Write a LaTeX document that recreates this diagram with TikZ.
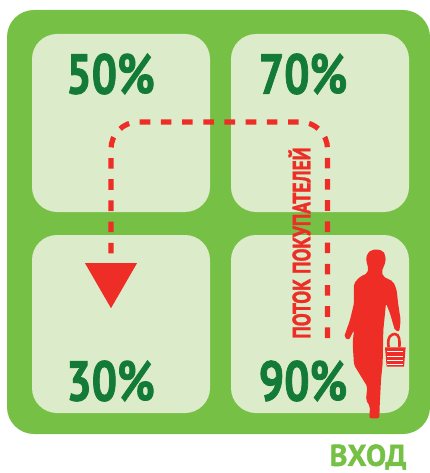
\documentclass[tikz,border=0pt]{standalone}
\usepackage{fontspec}
\usetikzlibrary{shapes.geometric}
\setmainfont{PT Sans}
\newfontfamily\heavyfont[BoldFont={PT Sans Bold},BoldFeatures={FakeBold=1.6}]{PT Sans}
\definecolor{shopgreen}{RGB}{118,192,69}
\definecolor{tilegreen}{RGB}{220,235,201}
\definecolor{pctgreen}{RGB}{19,123,55}
\definecolor{flowred}{RGB}{238,45,38}
\tikzset{
  zone/.style={fill=tilegreen, rounded corners=25pt, minimum width=178pt, minimum height=178pt, inner sep=0pt},
  pct/.style={text=pctgreen, font=\fontsize{56}{56}\heavyfont\bfseries, inner sep=0pt, anchor=center},
  flow/.style={draw=flowred, line width=5.2pt, dash pattern=on 10.6pt off 10.6pt, rounded corners=27pt}
}
\begin{document}
\begin{tikzpicture}[x=1pt, y=-1pt]
  \useasboundingbox (0,0) rectangle (430,473);
  \node[fill=shopgreen, rounded corners=27pt, minimum width=423pt, minimum height=424pt, inner sep=0pt] (shop) at (218.5,222) {};
  \node[zone] (zoneA) at (121,123) {};
  \node[zone] (zoneB) at (320,123) {};
  \node[zone] (zoneC) at (121,324) {};
  \node[zone] (zoneD) at (320,324) {};
  \node[pct] (pctA) at (110.5,74) {\scalebox{0.8}[1]{50\%}};
  \node[pct] (pctB) at (303,74) {\scalebox{0.8}[1]{70\%}};
  \node[pct] (pctC) at (110.5,381) {\scalebox{0.8}[1]{30\%}};
  \node[pct] (pctD) at (303,381) {\scalebox{0.8}[1]{90\%}};
  % customer route
  \coordinate (flowstart) at (327.5,338);
  \coordinate (flowend) at (111,263);
  \draw[flow] (flowstart) -- (327.5,122) -- (111,122) -- (flowend);
  \node[fill=flowred, isosceles triangle, isosceles triangle apex angle=60, shape border rotate=-90, inner sep=0pt, minimum height=45pt, anchor=lower side] (flowtip) at (flowend) {};
  \node[rotate=90, text=flowred, font=\fontsize{25}{25}\heavyfont\bfseries, inner sep=0pt] (flowlabel) at (299.5,243) {\scalebox{0.775}[1]{ПОТОК ПОКУПАТЕЛЕЙ}};
  \node[text=shopgreen, font=\fontsize{30}{30}\heavyfont\bfseries, inner sep=0pt] (entry) at (368,457) {ВХОД};
  % shopper
  \begin{scope}[shift={(280,230)}, x=0.3333pt, y=-0.3333pt]
    \fill[flowred, rounded corners=2pt] (290,58) -- (308,62) -- (316,75) -- (317,95) -- (305,125) -- (310,140) -- (340,155) -- (350,180) -- (355,225) -- (362,270) -- (358,305) -- (345,302) -- (330,250) -- (318,220) -- (310,300) -- (308,400) -- (303,450) -- (299,530) -- (298,565) -- (268,565) -- (270,530) -- (258,510) -- (262,470) -- (222,405) -- (218,340) -- (222,300) -- (207,330) -- (192,322) -- (210,270) -- (222,220) -- (222,160) -- (240,140) -- (262,130) -- (265,115) -- (258,90) -- (262,70) -- (275,60) -- cycle;
    \draw[flowred, line width=2.6pt] (326,352) .. controls (320,320) and (335,312) .. (345,312) .. controls (358,314) and (360,330) .. (358,352);
    \fill[flowred] (315,352) -- (377,352) -- (372,410) -- (320,410) -- cycle;
    \foreach \yy in {364,378,392,402}
      \draw[white, line width=0.5pt] (322,\yy) -- (370,\yy);
  \end{scope}
\end{tikzpicture}
\end{document}
